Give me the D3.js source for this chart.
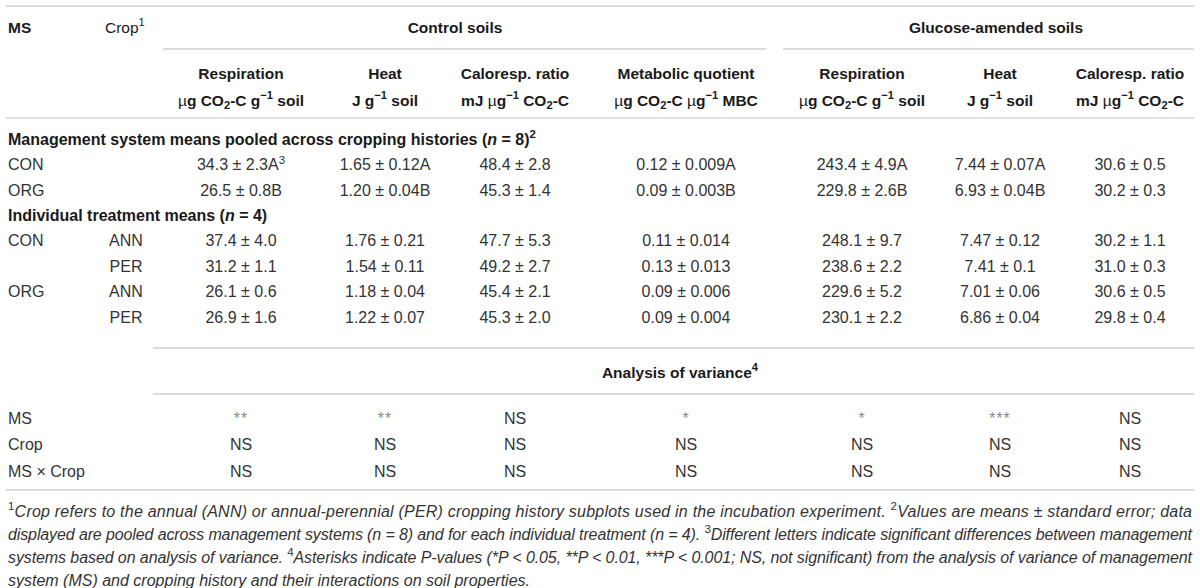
<!DOCTYPE html>
<html>
<head>
<meta charset="utf-8">
<script src="https://cdn.jsdelivr.net/npm/d3@7/dist/d3.min.js"></script>
<style>
  html, body { margin: 0; padding: 0; background: #fff; }
  svg { display: block; font-family: "Liberation Sans", Arial, Helvetica, sans-serif; }
</style>
</head>
<body>
<svg id="chart" width="1200" height="588"></svg>
<script>
// ---------- DATA ----------
const groupHeaders = ["Control soils", "Glucose-amended soils"];
const varNames = ["Respiration", "Heat", "Caloresp. ratio", "Metabolic quotient", "Respiration", "Heat", "Caloresp. ratio"];
const varUnits = [
  "μg CO_{2}-C g^{−1} soil",
  "J g^{−1} soil",
  "mJ μg^{−1} CO_{2}-C",
  "μg CO_{2}-C μg^{−1} MBC",
  "μg CO_{2}-C g^{−1} soil",
  "J g^{−1} soil",
  "mJ μg^{−1} CO_{2}-C"
];
const stubHeaders = ["MS", "Crop^{1}"];
const sectionLabels = [
  "Management system means pooled across cropping histories (~{n} = 8)^{2}",
  "Individual treatment means (~{n} = 4)"
];
const pooledMS = ["CON", "ORG"];
const pooledValues = [
  ["34.3 ± 2.3A^{3}", "1.65 ± 0.12A", "48.4 ± 2.8", "0.12 ± 0.009A", "243.4 ± 4.9A", "7.44 ± 0.07A", "30.6 ± 0.5"],
  ["26.5 ± 0.8B", "1.20 ± 0.04B", "45.3 ± 1.4", "0.09 ± 0.003B", "229.8 ± 2.6B", "6.93 ± 0.04B", "30.2 ± 0.3"]
];
const treatMS = ["CON", "", "ORG", ""];
const treatCrop = ["ANN", "PER", "ANN", "PER"];
const treatValues = [
  ["37.4 ± 4.0", "1.76 ± 0.21", "47.7 ± 5.3", "0.11 ± 0.014", "248.1 ± 9.7", "7.47 ± 0.12", "30.2 ± 1.1"],
  ["31.2 ± 1.1", "1.54 ± 0.11", "49.2 ± 2.7", "0.13 ± 0.013", "238.6 ± 2.2", "7.41 ± 0.1", "31.0 ± 0.3"],
  ["26.1 ± 0.6", "1.18 ± 0.04", "45.4 ± 2.1", "0.09 ± 0.006", "229.6 ± 5.2", "7.01 ± 0.06", "30.6 ± 0.5"],
  ["26.9 ± 1.6", "1.22 ± 0.07", "45.3 ± 2.0", "0.09 ± 0.004", "230.1 ± 2.2", "6.86 ± 0.04", "29.8 ± 0.4"]
];
const anovaTitle = "Analysis of variance^{4}";
const anovaTerms = ["MS", "Crop", "MS × Crop"];
const anovaValues = [
  ["**", "**", "NS", "*", "*", "***", "NS"],
  ["NS", "NS", "NS", "NS", "NS", "NS", "NS"],
  ["NS", "NS", "NS", "NS", "NS", "NS", "NS"]
];
const footnoteLines = [
  "^{1}Crop refers to the annual (ANN) or annual-perennial (PER) cropping history subplots used in the incubation experiment. ^{2}Values are means ± standard error; data",
  "displayed are pooled across management systems (n = 8) and for each individual treatment (n = 4). ^{3}Different letters indicate significant differences between management",
  "systems based on analysis of variance. ^{4}Asterisks indicate P-values (*P < 0.05, **P < 0.01, ***P < 0.001; NS, not significant) from the analysis of variance of management",
  "system (MS) and cropping history and their interactions on soil properties."
];

// ---------- LAYOUT ----------
const left = 8, right = 1194, ruleLeft = 6;
const colCenters = [241, 385, 515, 686, 862, 1000, 1130];
const colEdges = [[163, 766], [783, 1194]];
const groupCenters = [455, 996];
const fs = 16, hfs = 15.5;
const textColor = "#333", boldColor = "#1a1a1a";

const svg = d3.select("#chart");
const x = d3.scaleOrdinal().domain(d3.range(varNames.length)).range(colCenters);

const mainRowKeys = ["sec0", "p0", "p1", "sec1", "t0", "t1", "t2", "t3"];
const yMain = d3.scalePoint().domain(mainRowKeys).range([139, 317]);
const yAnova = d3.scalePoint().domain(anovaTerms).range([418, 471]);
const yFoot = d3.scalePoint().domain(d3.range(footnoteLines.length)).range([511, 580]);
const baseOff = 5.7;

// markup: ^{sup} _{sub} ~{italic}
function rich(sel, str, opts = {}) {
  const parts = str.split(/(\^\{[^}]*\}|_\{[^}]*\}|~\{[^}]*\})/).filter(s => s.length);
  let cur = 0;
  parts.forEach(p => {
    let txt = p, shift = 0, size = null, ital = false;
    if (p.startsWith("^{")) { txt = p.slice(2, -1); shift = -6.5; size = "0.72em"; }
    else if (p.startsWith("_{")) { txt = p.slice(2, -1); shift = 3.5; size = "0.72em"; }
    else if (p.startsWith("~{")) { txt = p.slice(2, -1); ital = true; }
    const t = sel.append("tspan").text(txt).attr("dy", shift - cur);
    if (size) t.attr("font-size", size);
    if (ital) t.attr("font-style", "italic");
    if (opts.upSup && size) t.attr("font-style", "normal");
    cur = shift;
  });
  return sel;
}

function rule(x1, x2, y, w, c) {
  svg.append("line").attr("x1", x1).attr("x2", x2).attr("y1", y).attr("y2", y)
    .attr("stroke", c).attr("stroke-width", w);
}

// rules
rule(ruleLeft, right, 6, 1.8, "#dcdcdc");
colEdges.forEach(e => rule(e[0], e[1], 49, 1.2, "#b8b8b8"));
rule(ruleLeft, right, 118, 1.6, "#d8d8d8");
rule(153, right, 348, 1.2, "#b8b8b8");
rule(153, right, 394, 1.2, "#b8b8b8");
rule(ruleLeft, right, 490, 1.8, "#dcdcdc");

// header row 1
const hdr = svg.append("g").attr("font-size", hfs).attr("fill", boldColor);
rich(hdr.append("text").attr("x", left).attr("y", 27 + baseOff).attr("font-weight", "bold"), stubHeaders[0]);
rich(hdr.append("text").attr("x", 105).attr("y", 27 + baseOff), stubHeaders[1]);
groupHeaders.forEach((g, i) => {
  hdr.append("text").attr("x", groupCenters[i]).attr("y", 27 + baseOff)
    .attr("text-anchor", "middle").attr("font-weight", "bold").text(g);
});
// header row 2
varNames.forEach((v, i) => {
  hdr.append("text").attr("x", x(i)).attr("y", 73 + baseOff).attr("text-anchor", "middle")
    .attr("font-weight", "bold").text(v);
  const t = hdr.append("text").attr("x", x(i)).attr("y", 100 + baseOff).attr("text-anchor", "middle")
    .attr("font-weight", "bold");
  rich(t, varUnits[i].replace(/μ/g, "~{µ}"));
});
hdr.selectAll("text tspan[font-style='italic']").attr("font-style", null).attr("font-weight", "normal");

// body
const body = svg.append("g").attr("font-size", fs).attr("fill", textColor);
sectionLabels.forEach((s, i) => {
  rich(body.append("text").attr("x", left).attr("y", yMain("sec" + i) + baseOff)
    .attr("font-weight", "bold").attr("fill", boldColor), s);
});
function valueRow(key, ms, crop, vals) {
  const y = yMain(key) + baseOff;
  if (ms) body.append("text").attr("x", left).attr("y", y).text(ms);
  if (crop) body.append("text").attr("x", 126).attr("y", y).attr("text-anchor", "middle").text(crop);
  vals.forEach((v, j) => rich(body.append("text").attr("x", x(j)).attr("y", y).attr("text-anchor", "middle"), v));
}
pooledMS.forEach((m, i) => valueRow("p" + i, m, "", pooledValues[i]));
treatCrop.forEach((c, i) => valueRow("t" + i, treatMS[i], c, treatValues[i]));

// anova
rich(body.append("text").attr("x", 680).attr("y", 372 + baseOff).attr("text-anchor", "middle")
  .attr("font-weight", "bold").attr("fill", boldColor).attr("font-size", hfs), anovaTitle);
anovaTerms.forEach((term, i) => {
  const y = yAnova(term) + baseOff;
  body.append("text").attr("x", left).attr("y", y).text(term);
  anovaValues[i].forEach((v, j) => {
    const t = body.append("text").attr("x", x(j)).attr("y", y).attr("text-anchor", "middle").text(v);
    if (v.startsWith("*")) t.attr("fill", "#8a8a8a").attr("font-size", 16).attr("letter-spacing", 1);
  });
});

// footnotes
const foot = svg.append("g").attr("font-size", fs).attr("fill", textColor).attr("font-style", "italic");
footnoteLines.forEach((l, i) => {
  const t = foot.append("text").attr("x", left).attr("y", yFoot(i) + baseOff);
  rich(t, l, { upSup: true });
  if (i < footnoteLines.length - 1) t.attr("textLength", right - 2 - left).attr("lengthAdjust", "spacing");
});
</script>
</body>
</html>
